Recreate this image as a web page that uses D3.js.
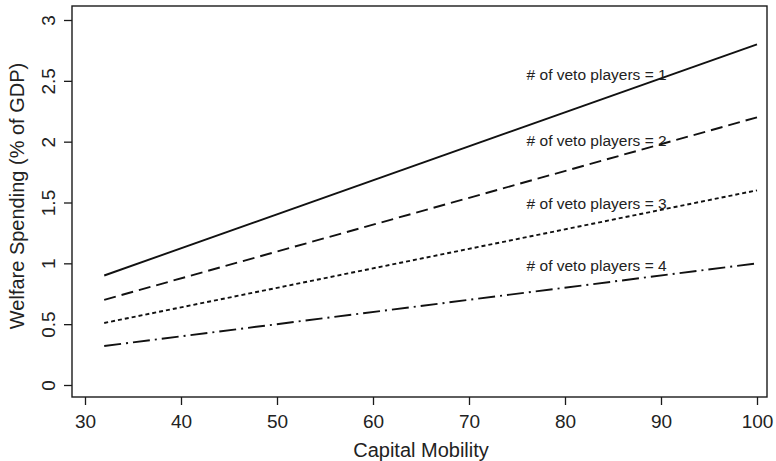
<!DOCTYPE html>
<html>
<head>
<meta charset="utf-8">
<script src="https://cdn.jsdelivr.net/npm/d3@7"></script>
<style>
  html, body { margin: 0; padding: 0; background: #fff; }
  svg { display: block; font-family: "Liberation Sans", Arial, Helvetica, sans-serif; }
</style>
</head>
<body>
<svg id="chart" width="776" height="461"></svg>
<script>
// ---- data ----
const capitalMobility = [32, 100];
const vetoPlayers1 = [0.90, 2.80];
const vetoPlayers2 = [0.70, 2.20];
const vetoPlayers3 = [0.51, 1.60];
const vetoPlayers4 = [0.32, 1.00];
const seriesNames = ["# of veto players = 1", "# of veto players = 2", "# of veto players = 3", "# of veto players = 4"];
const labelX = [76, 76, 76, 76];
const labelY = [2.55, 2.01, 1.49, 0.98];
const xTicks = [30, 40, 50, 60, 70, 80, 90, 100];
const yTicks = [0, 0.5, 1, 1.5, 2, 2.5, 3];
const xTitle = "Capital Mobility";
const yTitle = "Welfare Spending (% of GDP)";

// ---- layout ----
const svg = d3.select("#chart");
const frame = { left: 72, right: 767, top: 6, bottom: 397 };
const x = d3.scaleLinear().domain([30, 100]).range([85, 757]);
const y = d3.scaleLinear().domain([0, 3]).range([385, 20]);
const ink = "#1a1a1a";

// frame
svg.append("rect")
  .attr("x", frame.left).attr("y", frame.top)
  .attr("width", frame.right - frame.left).attr("height", frame.bottom - frame.top)
  .attr("fill", "none").attr("stroke", ink).attr("stroke-width", 1.4);

// x axis
const xAxis = d3.axisBottom(x).tickValues(xTicks).tickSize(8).tickPadding(10).tickFormat(d3.format("d"));
const gx = svg.append("g").attr("transform", `translate(0,${frame.bottom})`).call(xAxis);
gx.select(".domain").remove();
gx.selectAll(".tick line").attr("stroke", ink).attr("stroke-width", 1.3);
gx.selectAll(".tick text").attr("fill", "#222").style("font-size", "19px").attr("dy", "0.71em");

// y axis
const yAxis = d3.axisLeft(y).tickValues(yTicks).tickSize(8).tickFormat(d => d3.format("")(d));
const gy = svg.append("g").attr("transform", `translate(${frame.left},0)`).call(yAxis);
gy.select(".domain").remove();
gy.selectAll(".tick line").attr("stroke", ink).attr("stroke-width", 1.3);
gy.selectAll(".tick text")
  .attr("fill", "#222").style("font-size", "19px")
  .attr("x", null).attr("dy", null)
  .attr("text-anchor", "middle")
  .attr("transform", "translate(-17,0) rotate(-90)");

// titles
svg.append("text").attr("x", 421).attr("y", 457).attr("text-anchor", "middle")
  .style("font-size", "20px").attr("fill", "#222").text(xTitle);
svg.append("text").attr("transform", "translate(23.5,196) rotate(-90)").attr("text-anchor", "middle")
  .style("font-size", "20px").attr("fill", "#222").text(yTitle);

// lines
const allSeries = [vetoPlayers1, vetoPlayers2, vetoPlayers3, vetoPlayers4];
const dashes = [null, "12,6", "4,3", "17,5,2,5"];
const line = d3.line().x(d => x(d[0])).y(d => y(d[1]));
allSeries.forEach((vals, i) => {
  const pts = capitalMobility.map((m, j) => [m, vals[j]]);
  svg.append("path").datum(pts)
    .attr("d", line).attr("fill", "none")
    .attr("stroke", "#111").attr("stroke-width", 1.9)
    .attr("stroke-dasharray", dashes[i]);
});

// labels
seriesNames.forEach((name, i) => {
  svg.append("text").attr("x", x(labelX[i])).attr("y", y(labelY[i]))
    .attr("dy", "0.35em").style("font-size", "15.5px").attr("fill", "#222").text(name);
});
</script>
</body>
</html>
